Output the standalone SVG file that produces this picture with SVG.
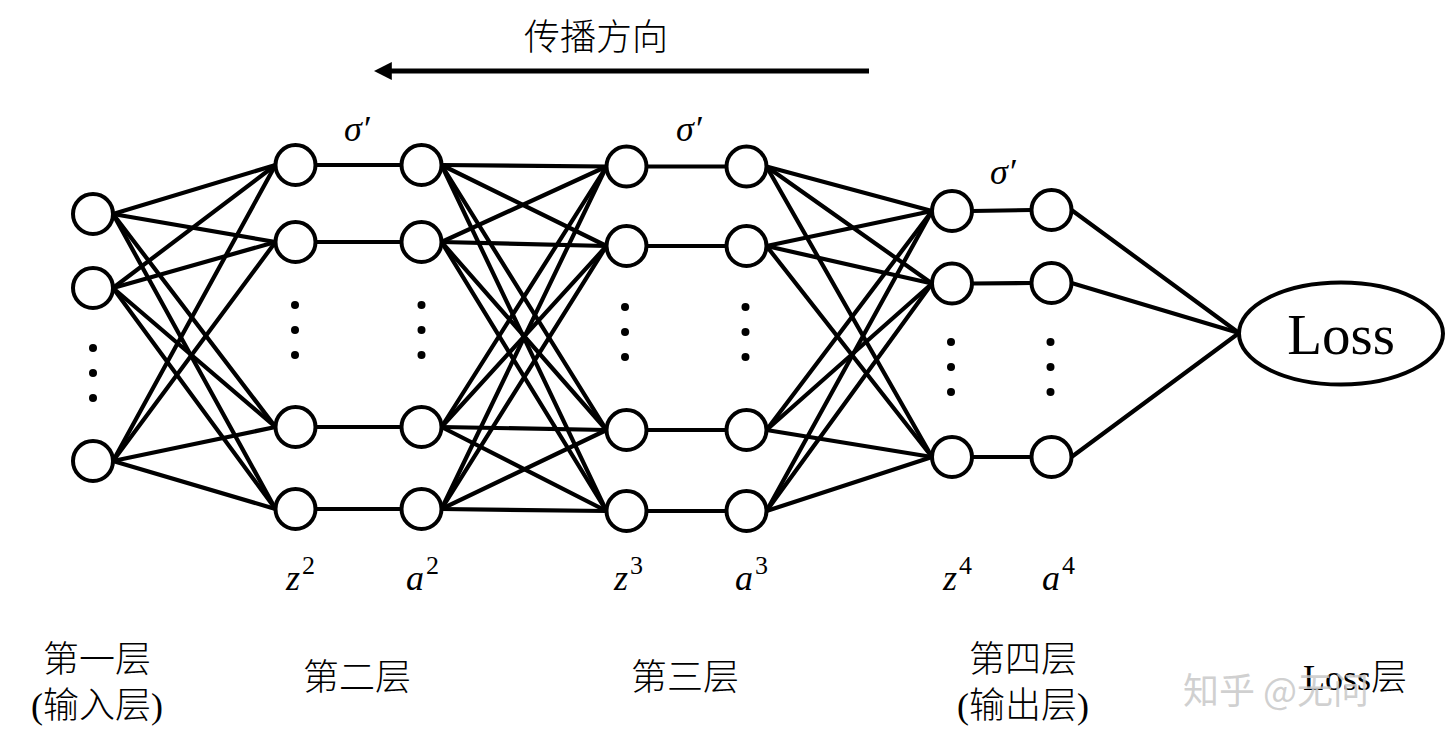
<svg xmlns="http://www.w3.org/2000/svg" width="1447" height="749" viewBox="0 0 1447 749">
<defs>
<style>
.n{fill:#fff;stroke:#000;stroke-width:4}
.e line{stroke:#000;stroke-width:4.2;stroke-linecap:round}
.d{fill:#000}
.cn{font-family:"Liberation Serif","Noto Sans CJK SC",serif;font-size:36px;font-weight:300;fill:#000;text-anchor:middle}
.m{font-family:"Liberation Serif","DejaVu Serif",serif;font-style:italic;font-size:36px;fill:#000}
.sup{font-family:"Liberation Serif","DejaVu Serif",serif;font-size:26px;font-style:normal}
</style>
<marker id="ah" viewBox="0 0 10 10" refX="1" refY="5" markerWidth="3.6" markerHeight="3.6" orient="auto-start-reverse">
<path d="M0,0 L10,5 L0,10 z" fill="#000"/>
</marker>
</defs>
<rect width="1447" height="749" fill="#fff"/>

<g id="direction">
<text x="596" y="50" style="font-family:'Noto Sans CJK SC',sans-serif;font-size:36px;font-weight:300;text-anchor:middle">传播方向</text>
<line x1="869" y1="71" x2="390" y2="71" stroke="#000" stroke-width="5" marker-end="url(#ah)"/>
</g>

<g id="connectors" class="e">
<line x1="113" y1="214" x2="275.5" y2="165"/>
<line x1="113" y1="214" x2="275.5" y2="242"/>
<line x1="113" y1="214" x2="275.5" y2="427"/>
<line x1="113" y1="214" x2="275.5" y2="509"/>
<line x1="113" y1="288" x2="275.5" y2="165"/>
<line x1="113" y1="288" x2="275.5" y2="242"/>
<line x1="113" y1="288" x2="275.5" y2="427"/>
<line x1="113" y1="288" x2="275.5" y2="509"/>
<line x1="113" y1="461" x2="275.5" y2="165"/>
<line x1="113" y1="461" x2="275.5" y2="242"/>
<line x1="113" y1="461" x2="275.5" y2="427"/>
<line x1="113" y1="461" x2="275.5" y2="509"/>
<line x1="315.5" y1="165" x2="401.5" y2="165"/>
<line x1="315.5" y1="242" x2="401.5" y2="242"/>
<line x1="315.5" y1="427" x2="401.5" y2="427"/>
<line x1="315.5" y1="509" x2="401.5" y2="509"/>
<line x1="441.5" y1="165" x2="606.5" y2="166.5"/>
<line x1="441.5" y1="165" x2="606.5" y2="246"/>
<line x1="441.5" y1="165" x2="606.5" y2="430"/>
<line x1="441.5" y1="165" x2="606.5" y2="511"/>
<line x1="441.5" y1="242" x2="606.5" y2="166.5"/>
<line x1="441.5" y1="242" x2="606.5" y2="246"/>
<line x1="441.5" y1="242" x2="606.5" y2="430"/>
<line x1="441.5" y1="242" x2="606.5" y2="511"/>
<line x1="441.5" y1="427" x2="606.5" y2="166.5"/>
<line x1="441.5" y1="427" x2="606.5" y2="246"/>
<line x1="441.5" y1="427" x2="606.5" y2="430"/>
<line x1="441.5" y1="427" x2="606.5" y2="511"/>
<line x1="441.5" y1="509" x2="606.5" y2="166.5"/>
<line x1="441.5" y1="509" x2="606.5" y2="246"/>
<line x1="441.5" y1="509" x2="606.5" y2="430"/>
<line x1="441.5" y1="509" x2="606.5" y2="511"/>
<line x1="646.5" y1="166.5" x2="726.5" y2="166.5"/>
<line x1="646.5" y1="246" x2="726.5" y2="246"/>
<line x1="646.5" y1="430" x2="726.5" y2="430"/>
<line x1="646.5" y1="511" x2="726.5" y2="511"/>
<line x1="766.5" y1="166.5" x2="932" y2="211"/>
<line x1="766.5" y1="166.5" x2="932" y2="283.5"/>
<line x1="766.5" y1="166.5" x2="932" y2="457"/>
<line x1="766.5" y1="246" x2="932" y2="211"/>
<line x1="766.5" y1="246" x2="932" y2="283.5"/>
<line x1="766.5" y1="246" x2="932" y2="457"/>
<line x1="766.5" y1="430" x2="932" y2="211"/>
<line x1="766.5" y1="430" x2="932" y2="283.5"/>
<line x1="766.5" y1="430" x2="932" y2="457"/>
<line x1="766.5" y1="511" x2="932" y2="211"/>
<line x1="766.5" y1="511" x2="932" y2="283.5"/>
<line x1="766.5" y1="511" x2="932" y2="457"/>
<line x1="972" y1="211" x2="1031.5" y2="210"/>
<line x1="972" y1="283.5" x2="1031.5" y2="283"/>
<line x1="972" y1="457" x2="1031.5" y2="457"/>
<line x1="1071.5" y1="210" x2="1239" y2="333"/>
<line x1="1071.5" y1="283" x2="1239" y2="333"/>
<line x1="1071.5" y1="457" x2="1239" y2="333"/>
</g>

<g id="layer1">
<circle class="n" cx="93" cy="214" r="20"/>
<circle class="n" cx="93" cy="288" r="20"/>
<circle class="n" cx="93" cy="461" r="20"/>
<circle class="d" cx="93" cy="348" r="4"/>
<circle class="d" cx="93" cy="373" r="4"/>
<circle class="d" cx="93" cy="398" r="4"/>
</g>

<g id="z2">
<circle class="n" cx="295.5" cy="165" r="20"/>
<circle class="n" cx="295.5" cy="242" r="20"/>
<circle class="n" cx="295.5" cy="427" r="20"/>
<circle class="n" cx="295.5" cy="509" r="20"/>
<circle class="d" cx="295" cy="305" r="4"/>
<circle class="d" cx="295" cy="330" r="4"/>
<circle class="d" cx="295" cy="355" r="4"/>
</g>

<g id="a2">
<circle class="n" cx="421.5" cy="165" r="20"/>
<circle class="n" cx="421.5" cy="242" r="20"/>
<circle class="n" cx="421.5" cy="427" r="20"/>
<circle class="n" cx="421.5" cy="509" r="20"/>
<circle class="d" cx="421.5" cy="305" r="4"/>
<circle class="d" cx="421.5" cy="330" r="4"/>
<circle class="d" cx="421.5" cy="355" r="4"/>
</g>

<g id="z3">
<circle class="n" cx="626.5" cy="166.5" r="20"/>
<circle class="n" cx="626.5" cy="246" r="20"/>
<circle class="n" cx="626.5" cy="430" r="20"/>
<circle class="n" cx="626.5" cy="511" r="20"/>
<circle class="d" cx="625" cy="307" r="4"/>
<circle class="d" cx="625" cy="332" r="4"/>
<circle class="d" cx="625" cy="357" r="4"/>
</g>

<g id="a3">
<circle class="n" cx="746.5" cy="166.5" r="20"/>
<circle class="n" cx="746.5" cy="246" r="20"/>
<circle class="n" cx="746.5" cy="430" r="20"/>
<circle class="n" cx="746.5" cy="511" r="20"/>
<circle class="d" cx="745.5" cy="307" r="4"/>
<circle class="d" cx="745.5" cy="332" r="4"/>
<circle class="d" cx="745.5" cy="357" r="4"/>
</g>

<g id="z4">
<circle class="n" cx="952" cy="211" r="20"/>
<circle class="n" cx="952" cy="283.5" r="20"/>
<circle class="n" cx="952" cy="457" r="20"/>
<circle class="d" cx="951" cy="342" r="4"/>
<circle class="d" cx="951" cy="367" r="4"/>
<circle class="d" cx="951" cy="392" r="4"/>
</g>

<g id="a4">
<circle class="n" cx="1051.5" cy="210" r="20"/>
<circle class="n" cx="1051.5" cy="283" r="20"/>
<circle class="n" cx="1051.5" cy="457" r="20"/>
<circle class="d" cx="1050.5" cy="342" r="4"/>
<circle class="d" cx="1050.5" cy="367" r="4"/>
<circle class="d" cx="1050.5" cy="392" r="4"/>
</g>

<g id="loss">
<ellipse class="n" cx="1341" cy="333.5" rx="102" ry="51"/>
<text x="1341" y="354" font-family="'Liberation Serif',serif" font-size="57" text-anchor="middle">Loss</text>
</g>

<g id="sigma-labels">
<text class="m" x="344" y="141" font-size="32">σ′</text>
<text class="m" x="676" y="141" font-size="32">σ′</text>
<text class="m" x="990" y="184" font-size="32">σ′</text>
</g>

<g id="var-labels">
<text class="m" x="286" y="590">z<tspan class="sup" dx="2" dy="-16">2</tspan></text>
<text class="m" x="406" y="590">a<tspan class="sup" dx="2" dy="-16">2</tspan></text>
<text class="m" x="614" y="590">z<tspan class="sup" dx="2" dy="-16">3</tspan></text>
<text class="m" x="735" y="590">a<tspan class="sup" dx="2" dy="-16">3</tspan></text>
<text class="m" x="943" y="590">z<tspan class="sup" dx="2" dy="-16">4</tspan></text>
<text class="m" x="1042" y="590">a<tspan class="sup" dx="2" dy="-16">4</tspan></text>
</g>

<g id="layer-labels">
<text class="cn" x="97" y="672">第一层</text>
<text class="cn" x="97" y="718">(输入层)</text>
<text class="cn" x="357" y="690">第二层</text>
<text class="cn" x="685" y="690">第三层</text>
<text class="cn" x="1023" y="672">第四层</text>
<text class="cn" x="1023" y="718">(输出层)</text>
<text class="cn" x="1355" y="690">Loss层</text>
</g>

<g id="watermark">
<text x="1183" y="704" font-family="'Noto Sans CJK SC',sans-serif" font-size="36" fill="#c8c8c8" fill-opacity="0.85">知乎 @无问</text>
</g>
</svg>
